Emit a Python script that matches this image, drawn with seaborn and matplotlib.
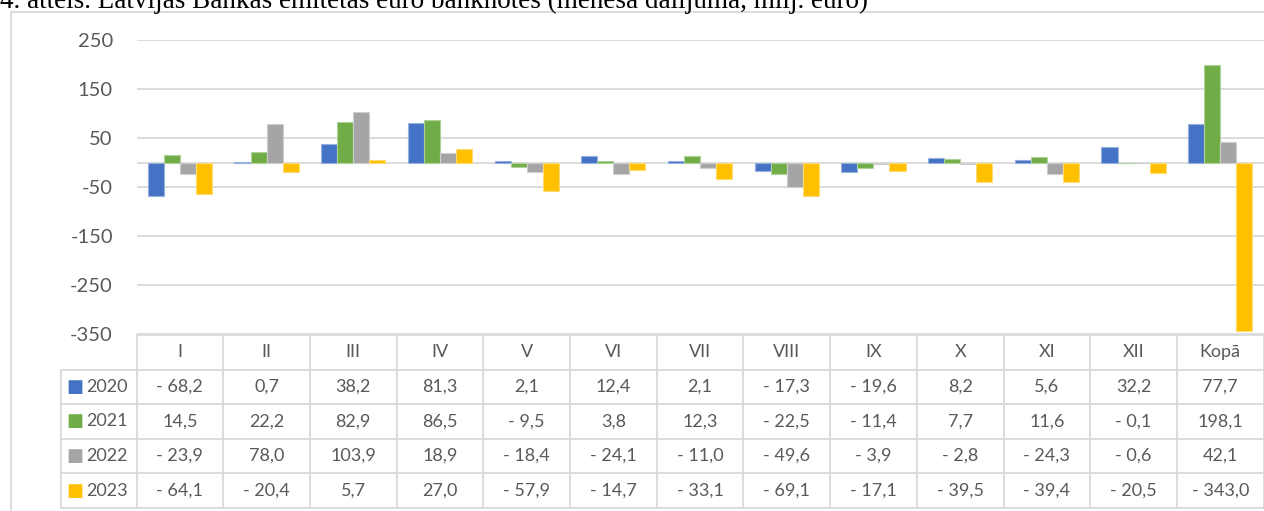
import matplotlib
matplotlib.use("Agg")
import matplotlib.pyplot as plt
import seaborn as sns
import pandas as pd
import numpy as np
from matplotlib.colors import to_rgb
from matplotlib.lines import Line2D

# ---------------- data ----------------
months = ["I", "II", "III", "IV", "V", "VI", "VII", "VIII", "IX", "X", "XI", "XII", "Kopā"]
years = ["2020", "2021", "2022", "2023"]
v2020 = [-68.2, 0.7, 38.2, 81.3, 2.1, 12.4, 2.1, -17.3, -19.6, 8.2, 5.6, 32.2, 77.7]
v2021 = [14.5, 22.2, 82.9, 86.5, -9.5, 3.8, 12.3, -22.5, -11.4, 7.7, 11.6, -0.1, 198.1]
v2022 = [-23.9, 78.0, 103.9, 18.9, -18.4, -24.1, -11.0, -49.6, -3.9, -2.8, -24.3, -0.6, 42.1]
v2023 = [-64.1, -20.4, 5.7, 27.0, -57.9, -14.7, -33.1, -69.1, -17.1, -39.5, -39.4, -20.5, -343.0]
y_ticks = [250, 150, 50, -50, -150, -250, -350]
title = "4. attēls. Latvijas Bankas emitētās euro banknotes (mēneša dalījumā, milj. euro)"

colors = ["#4472C4", "#70AD47", "#A5A5A5", "#FFC000"]
series = [v2020, v2021, v2022, v2023]

df = pd.DataFrame({
    "Mēnesis": np.tile(months, len(years)),
    "Gads": np.repeat(years, len(months)),
    "Vērtība": np.concatenate(series),
})

# ---------------- style ----------------
sns.set_theme(style="white")
plt.rcParams["font.family"] = ["Lato", "DejaVu Sans"]
GRID = "#D9D9D9"
TXT = "#595959"

W, H = 1264, 511
fig = plt.figure(figsize=(W / 100, H / 100), dpi=100)

# plot area in pixels
left_px, right_px = 136.5, 1263.6
top_px, bot_px = 40, 334
ax = fig.add_axes([left_px / W, 1 - bot_px / H, (right_px - left_px) / W, (bot_px - top_px) / H])

sns.barplot(data=df, x="Mēnesis", y="Vērtība", hue="Gads", order=months, hue_order=years,
            palette=colors, width=0.74, dodge=True, legend=False, ax=ax, errorbar=None,
            saturation=1)
for p in ax.patches:
    fc = np.array(to_rgb(p.get_facecolor()))
    p.set_edgecolor(tuple(fc + (1 - fc) * 0.45))
    p.set_linewidth(0.8)

ax.set_xlim(-0.5, len(months) - 0.5)
ax.set_ylim(-350, 250)
ax.set_yticks(y_ticks)
ax.set_yticklabels([str(t) for t in y_ticks])
ax.yaxis.grid(True, color=GRID, linewidth=1.3)
ax.set_axisbelow(True)
ax.axhline(0, color=GRID, linewidth=1.3, zorder=0.5)
ax.tick_params(axis="y", length=0, pad=17, labelsize=14.5, labelcolor=TXT)
ax.set_xticks([])
ax.set_xlabel("")
ax.set_ylabel("")
for s in ax.spines.values():
    s.set_visible(False)

# ---------------- data table ----------------
cat_w = (right_px - left_px) / len(months)
lab_px = 61.0
lab_w = (left_px - lab_px) / cat_w
t_top, t_bot = 335, 508
tax = fig.add_axes([lab_px / W, 1 - t_bot / H, (right_px - lab_px) / W, (t_bot - t_top) / H])
x0 = -0.5 - lab_w
xe = len(months) - 0.5
tax.set_xlim(x0, xe)
nrows = len(years) + 1
tax.set_ylim(nrows, 0)
tax.axis("off")

lw = 1.3
# horizontal lines
tax.add_line(Line2D([-0.5, xe], [0, 0], color=GRID, lw=lw, clip_on=False))
for r in range(1, nrows + 1):
    tax.add_line(Line2D([x0, xe], [r, r], color=GRID, lw=lw, clip_on=False))
# vertical lines
for k in range(len(months) + 1):
    tax.add_line(Line2D([k - 0.5, k - 0.5], [0, nrows], color=GRID, lw=lw, clip_on=False))
tax.add_line(Line2D([x0, x0], [1, nrows], color=GRID, lw=lw, clip_on=False))


def fmt(v):
    s = f"{abs(v):.1f}".replace(".", ",")
    return f"- {s}" if v < 0 else s


for i, m in enumerate(months):
    tax.text(i, 0.5, m, ha="center", va="center", fontsize=13, color=TXT)
for r, (yr, vals, c) in enumerate(zip(years, series, colors), start=1):
    tax.text(x0 + 0.16, r + 0.5, "■", ha="center", va="center", fontsize=13,
             color=c, family="DejaVu Sans")
    tax.text(x0 + 0.29, r + 0.5, yr, ha="left", va="center", fontsize=13, color=TXT)
    for i, v in enumerate(vals):
        tax.text(i, r + 0.5, fmt(v), ha="center", va="center", fontsize=13, color=TXT)

# outer chart border (left and top visible)
fig.add_artist(Line2D([11 / W, 11 / W], [0, 1 - 12 / H], color=GRID, lw=1.3))
fig.add_artist(Line2D([11 / W, 1], [1 - 12 / H, 1 - 12 / H], color=GRID, lw=1.3))

# title, partially cut at the top edge as in the reference
fig.text(0.0, 1 - 8 / H, title, ha="left", va="baseline", fontsize=19.5,
         family=["Liberation Serif", "DejaVu Serif"], color="black")

fig.savefig("out.png", dpi=100)
